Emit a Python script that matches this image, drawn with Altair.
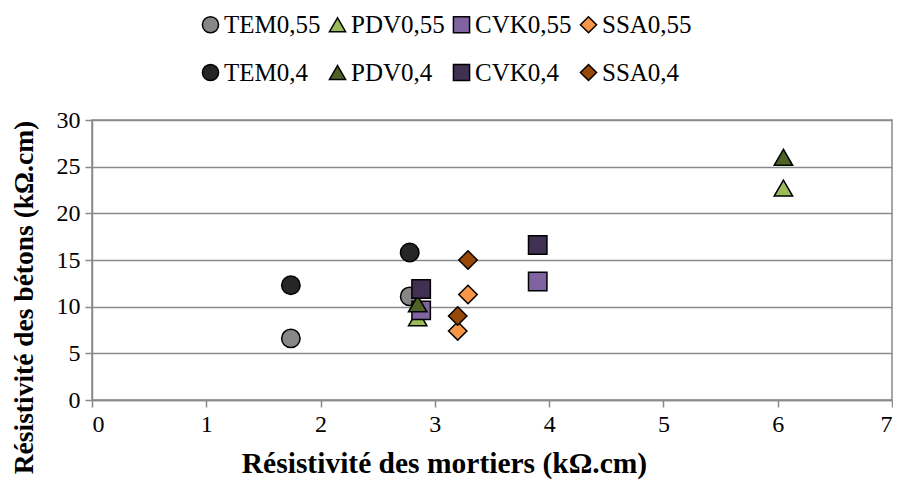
import altair as alt
import pandas as pd

series = ["TEM0,55", "PDV0,55", "CVK0,55", "SSA0,55",
          "TEM0,4", "PDV0,4", "CVK0,4", "SSA0,4"]
x_values = [
    [1.74, 2.78],
    [2.85, 6.05],
    [2.88, 3.90],
    [3.20, 3.29],
    [1.74, 2.78],
    [2.85, 6.05],
    [2.88, 3.90],
    [3.20, 3.29],
]
y_values = [
    [6.6, 11.1],
    [8.8, 22.7],
    [9.6, 12.7],
    [7.4, 11.3],
    [12.3, 15.8],
    [10.3, 26.0],
    [11.9, 16.6],
    [9.0, 15.0],
]
colors = ["#878787", "#9BBB59", "#8064A2", "#F79646",
          "#262626", "#4F6228", "#403152", "#984807"]
outlines = ["black"] * 8
shapes = ["circle", "triangle-up", "square", "diamond",
          "circle", "triangle-up", "square", "diamond"]
x_ticks = [0, 1, 2, 3, 4, 5, 6, 7]
y_ticks = [0, 5, 10, 15, 20, 25, 30]

rows = []
for s, xs, ys in zip(series, x_values, y_values):
    for xv, yv in zip(xs, ys):
        rows.append({"series": s, "x": xv, "y": yv})
df = pd.DataFrame(rows)

GRAY = "#8a8a8a"
FONT = "Liberation Serif"

legend = alt.Legend(
    title=None, orient="none", legendX=106, legendY=-108, columns=4,
    direction="horizontal",
    labelFont=FONT, labelFontSize=25, labelColor="black", labelLimit=300,
    labelOffset=1,
    symbolSize=260, symbolStrokeColor="black", symbolStrokeWidth=1.5,
    symbolOpacity=1, rowPadding=22, columnPadding=4,
)

chart = alt.Chart(df).mark_point(
    filled=True, strokeWidth=1.5, size=340, opacity=1
).encode(
    x=alt.X("x:Q", scale=alt.Scale(domain=[0, 7], nice=False, zero=True),
            axis=alt.Axis(values=x_ticks, grid=False, labelFont=FONT,
                          title="Résistivité des mortiers (kΩ.cm)",
                          titleFontSize=29.5,
                          titleX=352, titleY=63, titleBaseline="middle",
                          titleAlign="center")),
    y=alt.Y("y:Q", scale=alt.Scale(domain=[0, 30], nice=False),
            axis=alt.Axis(values=y_ticks, grid=True, labelFont=FONT,
                          title="Résistivité des bétons (kΩ.cm)",
                          titleFontSize=27.5,
                          titleX=-68, titleY=177, titleAngle=270,
                          titleBaseline="middle", titleAlign="center")),
    color=alt.Color("series:N", scale=alt.Scale(domain=series, range=colors),
                    legend=legend),
    shape=alt.Shape("series:N", scale=alt.Scale(domain=series, range=shapes),
                    legend=legend),
    stroke=alt.Stroke("series:N", scale=alt.Scale(domain=series, range=outlines),
                      legend=legend),
    strokeWidth=alt.value(1.5),
).properties(
    width=800, height=280,
    autosize=alt.AutoSizeParams(type="none"),
    padding={"left": 84, "top": 112, "right": 1, "bottom": 81},
    background="white",
).configure(
    font=FONT
).configure_view(
    stroke=GRAY, strokeWidth=1.5
).configure_axis(
    labelFont=FONT, labelFontSize=24, labelColor="black",
    titleFont=FONT, titleFontWeight="bold", titleColor="black",
    domainColor=GRAY, domainWidth=1.5, tickColor=GRAY, tickWidth=1.5, tickSize=7,
    gridColor=GRAY, gridWidth=1.3, labelPadding=5,
)

chart.save("out.html", embed_options={"renderer": "svg", "actions": False})
